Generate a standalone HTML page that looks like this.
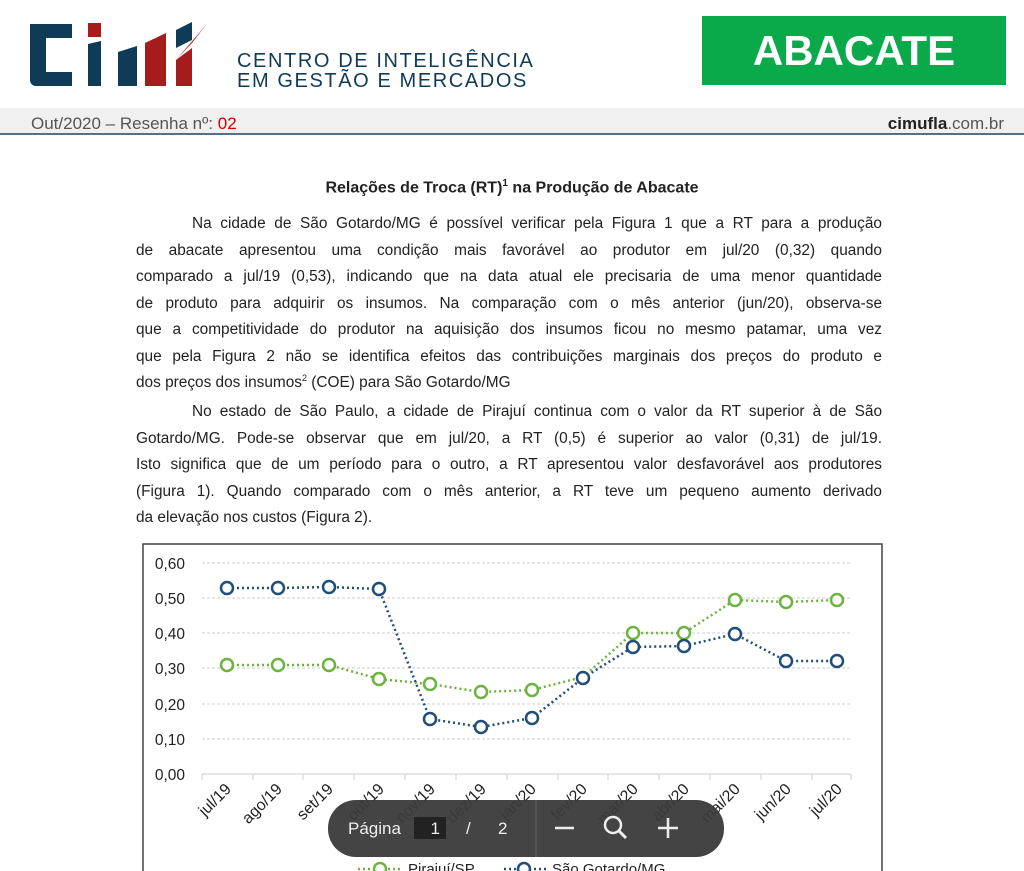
<!DOCTYPE html>
<html><head><meta charset="utf-8"><style>
body{margin:0;width:1024px;height:871px;overflow:hidden;background:#fff;font-family:"Liberation Sans",sans-serif;position:relative}
.p{position:absolute;margin:0}
.txt{left:136px;width:746px;font-size:15.4px;color:#222}
.txt div{height:26.5px;line-height:26.5px;text-align:justify;text-align-last:justify;white-space:nowrap}
.txt div.l{text-align-last:left}
.txt div.i{padding-left:56px}
</style></head><body>
<svg class="p" style="left:0;top:0" width="1024" height="140">
<path d="M30 24h42v14H46v34h26v14H36a6 6 0 0 1-6-6z" fill="#0f3b57"/>
<rect x="88" y="23" width="13" height="14" fill="#a61c1c"/>
<path d="M88 44l13-3v45H88z" fill="#0f3b57"/>
<path d="M118 52l19-6v40h-19z" fill="#0f3b57"/>
<path d="M145 43l21-10v53h-21z" fill="#a61c1c"/>
<path d="M176 30l16-8v18l-16 8z" fill="#0f3b57"/>
<path d="M176 60l16-12v38h-16z" fill="#a61c1c"/>
<path d="M176 60l30-35 -14 18z" fill="#a61c1c"/>
<text x="237" y="67" font-size="20" fill="#0f3b57" letter-spacing="1.6">CENTRO DE INTELIGÊNCIA</text>
<text x="237" y="87" font-size="20" fill="#0f3b57" letter-spacing="1.6">EM GESTÃO E MERCADOS</text>
<rect x="0" y="108" width="1024" height="26" fill="#f0f0f0"/>
<rect x="0" y="133" width="1024" height="2" fill="#5a7080"/>
<text x="31" y="129" font-size="17" fill="#555">Out/2020 – Resenha nº: <tspan fill="#c00">02</tspan></text>
<text x="1004" y="129" font-size="17" fill="#555" text-anchor="end"><tspan font-weight="bold" fill="#222">cimufla</tspan>.com.br</text>
</svg>
<div class="p" style="left:702px;top:16px;width:304px;height:69px;background:#0aaa4b;color:#fff;font-weight:bold;font-size:42px;line-height:69px;text-align:center">ABACATE</div>
<div class="p" style="left:0;top:178px;width:1024px;text-align:center;font-weight:bold;font-size:16px;color:#222">Relações de Troca (RT)<sup style="font-size:10px">1</sup> na Produção de Abacate</div>
<div class="p txt" style="top:211px">
<div class="i">Na cidade de São Gotardo/MG é possível verificar pela Figura 1 que a RT para a produção</div>
<div>de abacate apresentou uma condição mais favorável ao produtor em jul/20 (0,32) quando</div>
<div>comparado a jul/19 (0,53), indicando que na data atual ele precisaria de uma menor quantidade</div>
<div>de produto para adquirir os insumos. Na comparação com o mês anterior (jun/20), observa-se</div>
<div>que a competitividade do produtor na aquisição dos insumos ficou no mesmo patamar, uma vez</div>
<div>que pela Figura 2 não se identifica efeitos das contribuições marginais dos preços do produto e</div>
<div class="l">dos preços dos insumos<sup style="font-size:9px;line-height:0">2</sup> (COE) para São Gotardo/MG</div>
</div>
<div class="p txt" style="top:399px">
<div class="i">No estado de São Paulo, a cidade de Pirajuí continua com o valor da RT superior à de São</div>
<div>Gotardo/MG. Pode-se observar que em jul/20, a RT (0,5) é superior ao valor (0,31) de jul/19.</div>
<div>Isto significa que de um período para o outro, a RT apresentou valor desfavorável aos produtores</div>
<div>(Figura 1). Quando comparado com o mês anterior, a RT teve um pequeno aumento derivado</div>
<div class="l">da elevação nos custos (Figura 2).</div>
</div>
<svg class="p" style="left:0;top:0" width="1024" height="871" font-family="Liberation Sans">
<rect x="143" y="544" width="739" height="340" fill="none" stroke="#444" stroke-width="1.5"/>
<g stroke="#ccc" stroke-dasharray="3,2">
<line x1="202" x2="851" y1="563" y2="563"/><line x1="202" x2="851" y1="598" y2="598"/><line x1="202" x2="851" y1="633" y2="633"/><line x1="202" x2="851" y1="668" y2="668"/><line x1="202" x2="851" y1="704" y2="704"/><line x1="202" x2="851" y1="739" y2="739"/></g>
<line x1="202" x2="851" y1="774" y2="774" stroke="#ccc"/>
<g stroke="#ccc"><line x1="202" x2="202" y1="774" y2="780"/><line x1="253" x2="253" y1="774" y2="780"/><line x1="303" x2="303" y1="774" y2="780"/><line x1="354" x2="354" y1="774" y2="780"/><line x1="405" x2="405" y1="774" y2="780"/><line x1="456" x2="456" y1="774" y2="780"/><line x1="507" x2="507" y1="774" y2="780"/><line x1="558" x2="558" y1="774" y2="780"/><line x1="608" x2="608" y1="774" y2="780"/><line x1="659" x2="659" y1="774" y2="780"/><line x1="710" x2="710" y1="774" y2="780"/><line x1="761" x2="761" y1="774" y2="780"/><line x1="812" x2="812" y1="774" y2="780"/><line x1="851" x2="851" y1="774" y2="780"/></g>
<g font-size="15.5" fill="#222" text-anchor="end">
<text x="185" y="569">0,60</text><text x="185" y="604">0,50</text><text x="185" y="639">0,40</text><text x="185" y="674">0,30</text><text x="185" y="710">0,20</text><text x="185" y="745">0,10</text><text x="185" y="780">0,00</text></g>
<g font-size="16" fill="#222" text-anchor="end">
<text transform="translate(232,790) rotate(-45)">jul/19</text><text transform="translate(283,790) rotate(-45)">ago/19</text><text transform="translate(334,790) rotate(-45)">set/19</text><text transform="translate(385,790) rotate(-45)">out/19</text><text transform="translate(436,790) rotate(-45)">nov/19</text><text transform="translate(487,790) rotate(-45)">dez/19</text><text transform="translate(537,790) rotate(-45)">jan/20</text><text transform="translate(588,790) rotate(-45)">fev/20</text><text transform="translate(639,790) rotate(-45)">mar/20</text><text transform="translate(690,790) rotate(-45)">abr/20</text><text transform="translate(741,790) rotate(-45)">mai/20</text><text transform="translate(792,790) rotate(-45)">jun/20</text><text transform="translate(843,790) rotate(-45)">jul/20</text></g>
<polyline fill="none" stroke="#6db33f" stroke-width="2.5" stroke-dasharray="2,3" points="227,665 278,665 329,665 379,679 430,684 481,692 532,690 583,677 633,633 684,633 735,600 786,602 837,600"/>
<polyline fill="none" stroke="#1f4e79" stroke-width="2.5" stroke-dasharray="2,3" points="227,588 278,588 329,587 379,589 430,719 481,727 532,718 583,678 633,647 684,646 735,634 786,661 837,661"/>
<g fill="#fff" stroke="#6db33f" stroke-width="2.5">
<circle cx="227" cy="665" r="6"/><circle cx="278" cy="665" r="6"/><circle cx="329" cy="665" r="6"/><circle cx="379" cy="679" r="6"/><circle cx="430" cy="684" r="6"/><circle cx="481" cy="692" r="6"/><circle cx="532" cy="690" r="6"/><circle cx="633" cy="633" r="6"/><circle cx="684" cy="633" r="6"/><circle cx="735" cy="600" r="6"/><circle cx="786" cy="602" r="6"/><circle cx="837" cy="600" r="6"/></g>
<g fill="#fff" stroke="#1f4e79" stroke-width="2.5">
<circle cx="227" cy="588" r="6"/><circle cx="278" cy="588" r="6"/><circle cx="329" cy="587" r="6"/><circle cx="379" cy="589" r="6"/><circle cx="430" cy="719" r="6"/><circle cx="481" cy="727" r="6"/><circle cx="532" cy="718" r="6"/><circle cx="583" cy="678" r="6"/><circle cx="633" cy="647" r="6"/><circle cx="684" cy="646" r="6"/><circle cx="735" cy="634" r="6"/><circle cx="786" cy="661" r="6"/><circle cx="837" cy="661" r="6"/></g>
<line x1="358" x2="400" y1="869" y2="869" stroke="#6db33f" stroke-width="2.5" stroke-dasharray="2,3"/><circle cx="380" cy="869" r="6" fill="#fff" stroke="#6db33f" stroke-width="2.5"/>
<text x="408" y="874" font-size="15" fill="#222">Pirajuí/SP</text>
<line x1="504" x2="546" y1="869" y2="869" stroke="#1f4e79" stroke-width="2.5" stroke-dasharray="2,3"/><circle cx="524" cy="869" r="6" fill="#fff" stroke="#1f4e79" stroke-width="2.5"/>
<text x="552" y="874" font-size="15" fill="#222">São Gotardo/MG</text>
<rect x="328" y="800" width="396" height="57" rx="28" fill="#3a3a3a" opacity="0.95"/>
<line x1="536" x2="536" y1="800" y2="857" stroke="#666"/>
<text x="348" y="834" font-size="17" fill="#eee">Página</text>
<rect x="414" y="817" width="32" height="22" fill="#222"/>
<text x="440" y="834" font-size="17" fill="#eee" text-anchor="end">1</text>
<text x="466" y="834" font-size="17" fill="#eee">/</text>
<text x="498" y="834" font-size="17" fill="#eee">2</text>
<line x1="555" x2="574" y1="828" y2="828" stroke="#eee" stroke-width="2.5"/>
<circle cx="613" cy="825" r="8" fill="none" stroke="#eee" stroke-width="2.5"/><line x1="619" y1="831" x2="626" y2="838" stroke="#eee" stroke-width="3"/>
<line x1="658" x2="678" y1="828" y2="828" stroke="#eee" stroke-width="2.5"/><line x1="668" x2="668" y1="818" y2="838" stroke="#eee" stroke-width="2.5"/>
</svg>
</body></html>
